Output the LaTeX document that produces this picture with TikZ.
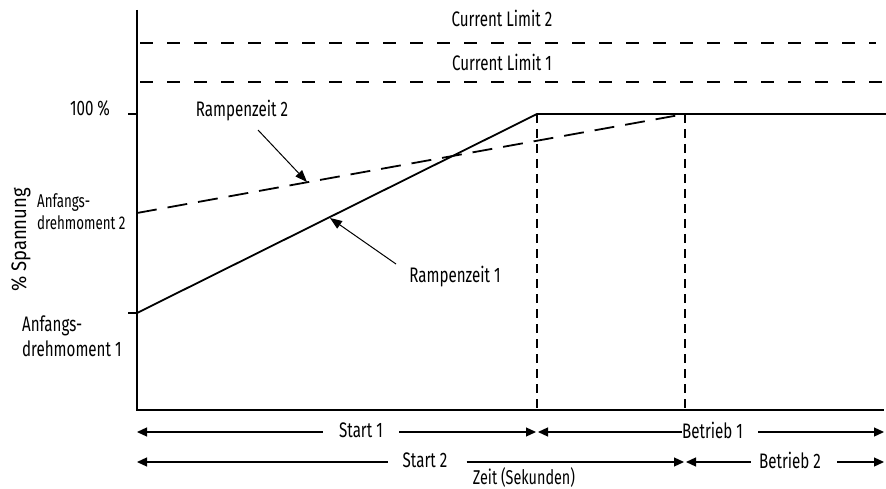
\documentclass[tikz,border=0pt]{standalone}
\usepackage{fontspec}
\setmainfont{Fira Sans}[FakeStretch=0.72]
\newfontfamily\widerfont{Fira Sans}[FakeStretch=0.88]
\usetikzlibrary{arrows.meta}
\begin{document}
\begin{tikzpicture}[x=1pt,y=-1pt,
  axis/.style={line width=2.2pt},
  curve/.style={line width=1.8pt},
  climit/.style={line width=1.2pt, dash pattern=on 13pt off 14pt},
  rampdash/.style={line width=1.8pt, dash pattern=on 20pt off 11pt},
  vdash/.style={line width=1.5pt, dash pattern=on 9pt off 6pt},
  txt/.style={inner sep=0pt, font=\fontsize{21}{24}\selectfont},
  small/.style={inner sep=0pt, align=left, font=\fontsize{18.5}{22}\selectfont},
  pointer/.style={line width=1pt, -{Triangle[length=12pt,width=9pt]}},
  span/.style={line width=1.2pt},
  ltip/.style={span, {Triangle[length=10pt,width=9pt]}-},
  rtip/.style={span, -{Triangle[length=10pt,width=9pt]}}
]
\useasboundingbox (0,0) rectangle (886,489);
% axes
\coordinate (Ytop) at (137,10);
\coordinate (O) at (137,410);
\coordinate (Xend) at (884,410);
\draw[axis] (Ytop) -- (O) -- (Xend);
% ticks
\coordinate (t1a) at (128,114); \coordinate (t1b) at (137,114);
\coordinate (t2a) at (128,313); \coordinate (t2b) at (137,313);
\draw[axis] (t1a) -- (t1b);
\draw[axis] (t2a) -- (t2b);
% current limits
\coordinate (c2a) at (140,43); \coordinate (c2b) at (876,43);
\coordinate (c1a) at (140,82); \coordinate (c1b) at (886,82);
\draw[climit] (c2a) -- (c2b);
\draw[climit] (c1a) -- (c1b);
\node[txt] (cl2) at (502,18) {Current Limit 2};
\node[txt] (cl1) at (502,62) {Current Limit 1};
% curves
\coordinate (s0) at (137,313);
\coordinate (s1) at (537,114);
\coordinate (s2) at (886,114);
\coordinate (d0) at (137,213);
\coordinate (d1) at (685,114);
\draw[curve] (s0) -- (s1) -- (s2);
\draw[rampdash] (d0) -- (d1);
\coordinate (v1b) at (537,410);
\coordinate (v2b) at (685,410);
\draw[vdash] (s1) -- (v1b);
\draw[vdash] (d1) -- (v2b);
% y labels
\node[txt] (p100) at (90,108) {100 \%};
\node[small, anchor=west] (ad2) at (37,212) {Anfangs-\\drehmoment 2};
\node[txt, align=left, anchor=west, font=\fontsize{21}{25}\selectfont] (ad1) at (22,336) {Anfangs-\\drehmoment 1};
\node[txt, rotate=90, font=\widerfont\fontsize{21}{24}\selectfont] (ylab) at (21,240) {\% Spannung};
% ramp labels
\node[txt] (r2) at (242,111) {Rampenzeit 2};
\node[txt] (r1) at (455,277) {Rampenzeit 1};
\coordinate (r2s) at (258,130); \coordinate (r2t) at (307,182);
\coordinate (r1s) at (396,264); \coordinate (r1t) at (330,218);
\draw[pointer] (r2s) -- (r2t);
\draw[pointer] (r1s) -- (r1t);
% bottom spans row 1
\coordinate (a0) at (137,432);
\coordinate (a1) at (536,432);
\coordinate (a1r) at (538,432);
\coordinate (a2) at (884,432);
\node[txt] (st1) at (361,430) {Start 1};
\node[txt, anchor=west] (be1) at (682,430) {Betrieb 1};
\draw[ltip] (a0) -- ([xshift=-16pt]st1.west |- a0);
\draw[rtip] ([xshift=16pt]st1.east |- a0) -- (a1);
\draw[ltip] (a1r) -- (be1.west |- a1r);
\draw[rtip] ([xshift=15pt]be1.east |- a1r) -- (a2);
% row 2
\coordinate (b0) at (137,462);
\coordinate (b1) at (684,462);
\coordinate (b1r) at (686,462);
\coordinate (b2) at (884,462);
\node[txt] (st2) at (425,460) {Start 2};
\node[txt] (be2) at (790,460) {Betrieb 2};
\draw[ltip] (b0) -- ([xshift=-15pt]st2.west |- b0);
\draw[rtip] ([xshift=19pt]st2.east |- b0) -- (b1);
\draw[ltip] (b1r) -- ([xshift=-8pt]be2.west |- b1r);
\draw[rtip] ([xshift=16pt]be2.east |- b1r) -- (b2);
\node[txt, font=\fontsize{20}{23}\selectfont] (zeit) at (524,477) {Zeit (Sekunden)};
\end{tikzpicture}
\end{document}
